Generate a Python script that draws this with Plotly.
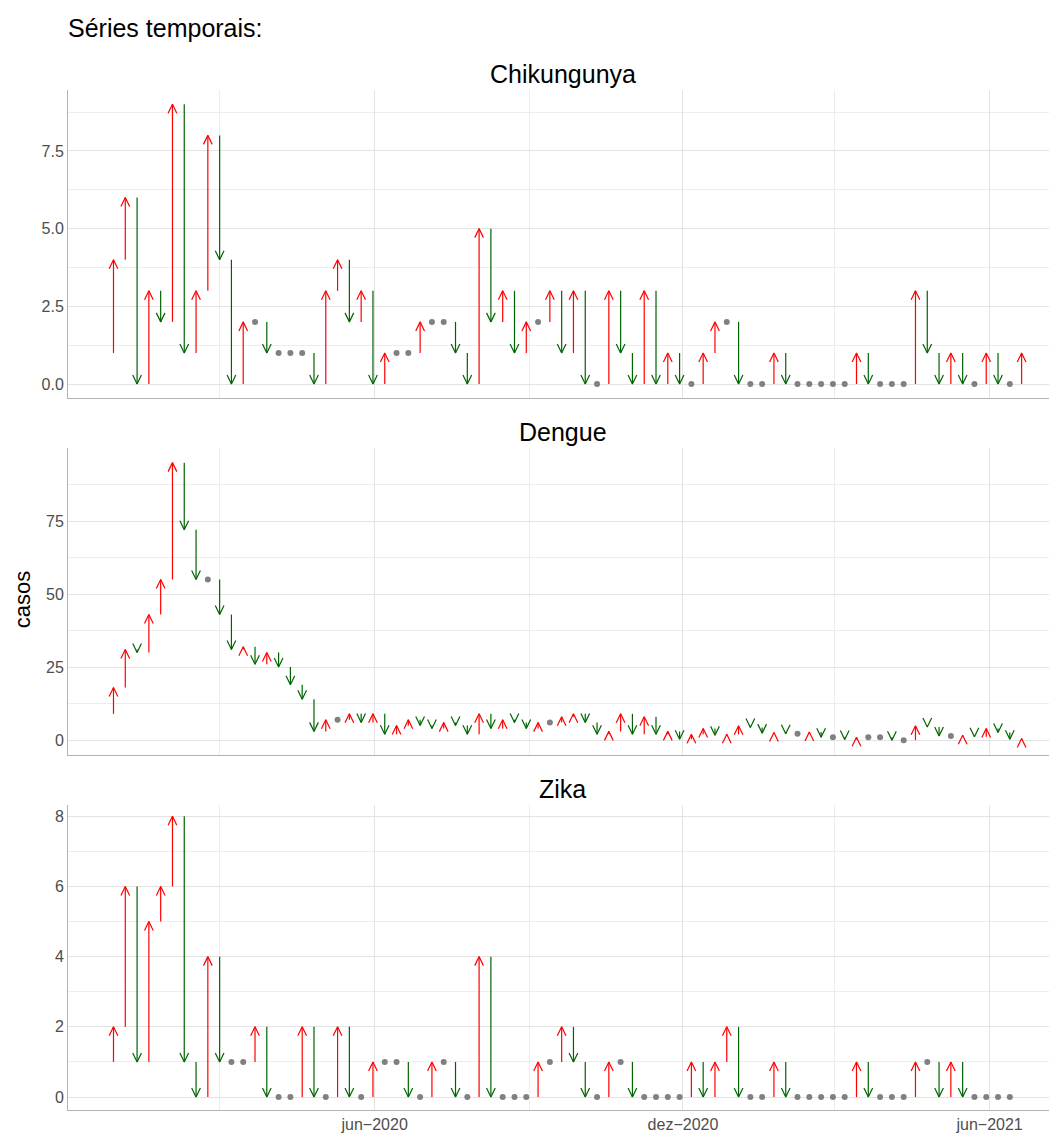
import pandas as pd
import plotly.graph_objects as go
from plotly.subplots import make_subplots

# weekly dates
semanas = pd.date_range("2019-12-29", periods=78, freq="7D")

# value of the week before the first plotted one
inicio = {"Chikungunya": 1, "Dengue": 9, "Zika": 1}

chik = [4, 6, 0, 3, 2, 9, 1, 3, 8, 4,
        0, 2, 2, 1, 1, 1, 1, 0, 3, 4,
        2, 3, 0, 1, 1, 1, 2, 2, 2, 1,
        0, 5, 2, 3, 1, 2, 2, 3, 1, 3,
        0, 0, 3, 1, 0, 3, 0, 1, 0, 0,
        1, 2, 2, 0, 0, 0, 1, 0, 0, 0,
        0, 0, 0, 1, 0, 0, 0, 0, 3, 1,
        0, 1, 0, 0, 1, 0, 0, 1]

dengue = [18, 31, 30, 43, 55, 95, 72, 55, 55, 43,
          31, 32, 26, 30, 25, 19, 14, 3, 7, 7,
          9, 6, 9, 2, 5, 7, 5, 4, 6, 5,
          2, 9, 4, 7, 6, 4, 6, 6, 8, 9,
          6, 2, 3, 9, 2, 8, 2, 3, 0.3, 2,
          4, 1.7, 2, 4.9, 4.3, 2.4, 2.6, 2.2, 2.2, 2.8,
          1, 1, 0.2, 1, 1, 1, 0, 0, 4.9, 4.5,
          1.4, 1.4, 1.7, 1.2, 4, 2.6, 0.3, 0.6]

zika = [2, 6, 1, 5, 6, 8, 1, 0, 4, 1,
        1, 1, 2, 0, 0, 0, 2, 0, 0, 2,
        0, 0, 1, 1, 1, 0, 0, 1, 1, 0,
        0, 4, 0, 0, 0, 0, 1, 1, 2, 1,
        0, 0, 1, 1, 0, 0, 0, 0, 0, 1,
        0, 1, 2, 0, 0, 0, 1, 0, 0, 0,
        0, 0, 0, 1, 0, 0, 0, 0, 1, 1,
        0, 1, 0, 0, 0, 0, 0, None]

series = {"Chikungunya": chik, "Dengue": dengue, "Zika": zika}
yranges = {"Chikungunya": [-0.45, 9.46], "Dengue": [-5.1, 100], "Zika": [-0.37, 8.32]}
yticks = {"Chikungunya": [0, 2.5, 5, 7.5], "Dengue": [0, 25, 50, 75], "Zika": [0, 2, 4, 6, 8]}
ytext = {"Chikungunya": ["0.0", "2.5", "5.0", "7.5"], "Dengue": ["0", "25", "50", "75"],
         "Zika": ["0", "2", "4", "6", "8"]}
altura_px = {"Chikungunya": 308, "Dengue": 307, "Zika": 305}

VERMELHO = "#FF0000"
VERDE = "#006400"
CINZA = "#808080"

# arrow head size (pixels) -> data units
HEAD_H = 9
half_w = pd.Timedelta(hours=62)

fig = make_subplots(rows=3, cols=1, shared_xaxes=False, vertical_spacing=0.05,
                    subplot_titles=list(series.keys()))

for r, (nome, vals) in enumerate(series.items(), start=1):
    h = HEAD_H * (yranges[nome][1] - yranges[nome][0]) / altura_px[nome]
    prev = inicio[nome]
    xs = {"up": [], "down": []}
    ys = {"up": [], "down": []}
    dots = ([], [])
    for d, v in zip(semanas, vals):
        if v is None:
            continue
        if v == prev:
            dots[0].append(d); dots[1].append(v)
        else:
            k = "up" if v > prev else "down"
            back = v - h if k == "up" else v + h
            xs[k].extend([d, d, None, d - half_w, d, d + half_w, None])
            ys[k].extend([prev, v, None, back, v, back, None])
        prev = v
    for k, cor in [("up", VERMELHO), ("down", VERDE)]:
        fig.add_trace(go.Scatter(x=xs[k], y=ys[k], mode="lines",
                                 line=dict(color=cor, width=1.2), showlegend=False,
                                 hoverinfo="skip"), row=r, col=1)
    fig.add_trace(go.Scatter(x=dots[0], y=dots[1], mode="markers",
                             marker=dict(color=CINZA, size=6), showlegend=False), row=r, col=1)

    fig.update_yaxes(range=yranges[nome], tickvals=yticks[nome], ticktext=ytext[nome],
                     showgrid=True, gridcolor="#e3e3e3", gridwidth=1,
                     minor=dict(dtick=(yticks[nome][1] - yticks[nome][0]) / 2, showgrid=True,
                                gridcolor="#ededed", gridwidth=0.7),
                     showline=True, linecolor="#b3b3b3", linewidth=1, zeroline=False,
                     tickfont=dict(size=16, color="#4d4d4d"), ticks="", row=r, col=1)
    fig.update_xaxes(range=["2019-12-02", "2021-07-11"], tickvals=["2020-06-01", "2020-12-01", "2021-06-01"],
                     ticktext=["jun\u22122020", "dez\u22122020", "jun\u22122021"] if r == 3 else ["", "", ""],
                     showgrid=True, gridcolor="#e3e3e3", gridwidth=1,
                     minor=dict(tickvals=["2020-03-01", "2020-09-01", "2021-03-01"], showgrid=True,
                                gridcolor="#ededed", gridwidth=0.7),
                     showline=True, linecolor="#b3b3b3", linewidth=1, zeroline=False,
                     tickfont=dict(size=16, color="#4d4d4d"), ticks="", row=r, col=1)

# panel placement
fig.update_layout(yaxis=dict(domain=[0.698, 1]), yaxis2=dict(domain=[0.348, 0.649]),
                  yaxis3=dict(domain=[0, 0.299]))
for i, ann in enumerate(fig.layout.annotations):
    ann.font = dict(size=25, color="black")
    ann.y = [1, 0.649, 0.299][i]
    ann.yshift = 0

fig.update_layout(
    width=1049, height=1126,
    margin=dict(l=60, r=0, t=82, b=24),
    plot_bgcolor="white", paper_bgcolor="white",
    font=dict(family="Liberation Sans, Arial, sans-serif"),
    title=dict(text="Séries temporais:", x=60 / 1049, xanchor="left", y=1 - 20 / 1126, yanchor="middle",
               font=dict(size=25, color="black")),
)
fig.add_annotation(text="casos", xref="paper", yref="paper", x=-0.061, y=0.5, textangle=-90,
                   showarrow=False, font=dict(size=22, color="black"))

fig.write_html("out.html")
